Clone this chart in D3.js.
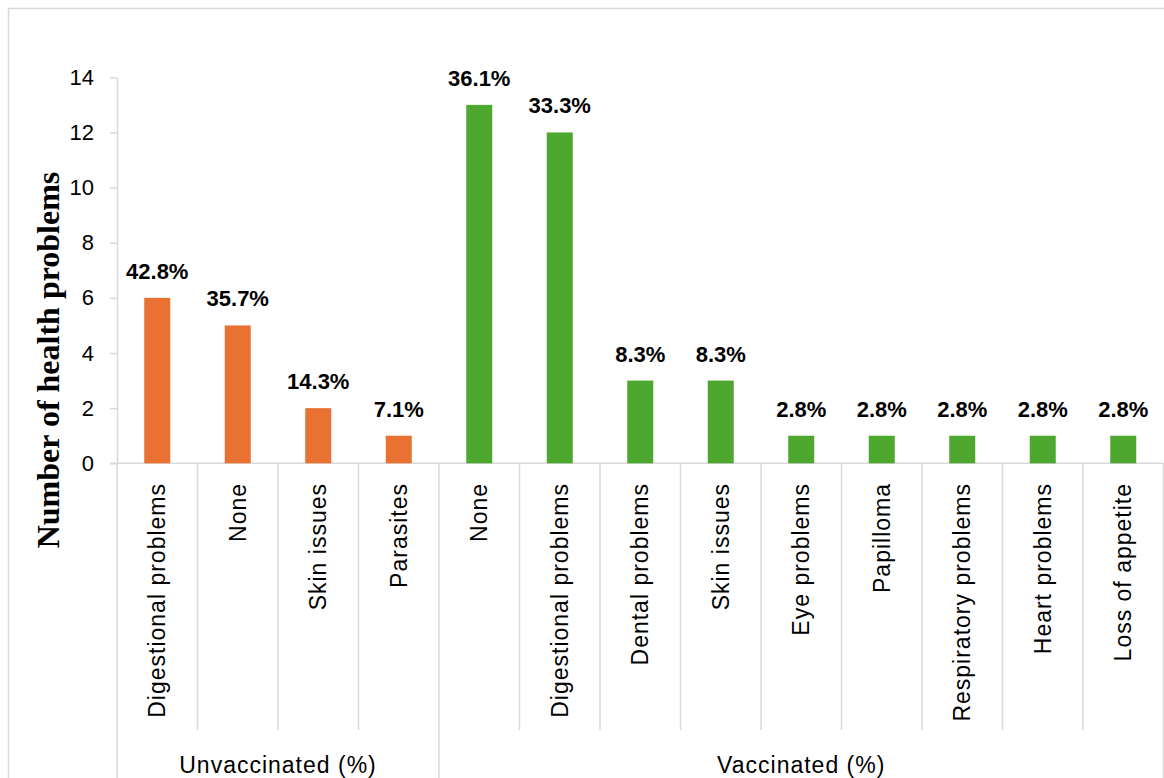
<!DOCTYPE html>
<html><head><meta charset="utf-8">
<script src="https://cdn.jsdelivr.net/npm/d3@7"></script>
<style>html,body{margin:0;padding:0;background:#fff;}svg{display:block;}</style>
</head><body>
<svg id="c" width="1164" height="778"></svg>
<script>
const groups = ["Unvaccinated (%)", "Vaccinated (%)"];
const unvacCats = ["Digestional problems", "None", "Skin issues", "Parasites"];
const unvacValues = [6, 5, 2, 1];
const unvacLabels = ["42.8%", "35.7%", "14.3%", "7.1%"];
const vacCats = ["None", "Digestional problems", "Dental problems", "Skin issues", "Eye problems", "Papilloma", "Respiratory problems", "Heart problems", "Loss of appetite"];
const vacValues = [13, 12, 3, 3, 1, 1, 1, 1, 1];
const vacLabels = ["36.1%", "33.3%", "8.3%", "8.3%", "2.8%", "2.8%", "2.8%", "2.8%", "2.8%"];
const yTicks = [0, 2, 4, 6, 8, 10, 12, 14];
const yTitle = "Number of health problems";

const rows = [];
unvacCats.forEach((c, i) => rows.push({g: 0, key: "u" + i, cat: c, v: unvacValues[i], lab: unvacLabels[i]}));
vacCats.forEach((c, i) => rows.push({g: 1, key: "v" + i, cat: c, v: vacValues[i], lab: vacLabels[i]}));

const svg = d3.select("#c");
const gridCol = "#D9D9D9";
const x0 = 117, x1 = 1163.5, yTop = 77.3, yBot = 463.3;

// outer border
svg.append("rect").attr("x", 8.5).attr("y", 8.5).attr("width", 1170).attr("height", 800)
  .attr("fill", "none").attr("stroke", gridCol).attr("stroke-width", 1.5);

const x = d3.scaleBand().domain(rows.map(d => d.key)).range([x0, x1]).paddingInner(0).paddingOuter(0);
const y = d3.scaleLinear().domain([0, 14]).range([yBot, yTop]);
const colors = ["#E97132", "#4EA72E"];
const barW = 26;

// y axis
const yAxis = svg.append("g").attr("transform", `translate(${x0},0)`)
  .call(d3.axisLeft(y).tickValues(yTicks).tickSize(7).tickSizeOuter(0).tickPadding(16));
yAxis.select(".domain").attr("stroke", gridCol).attr("stroke-width", 1.5);
yAxis.selectAll(".tick line").attr("stroke", gridCol).attr("stroke-width", 1.5);
yAxis.selectAll(".tick text").attr("font-family", "Liberation Sans, Arial, sans-serif")
  .attr("font-size", 22).attr("fill", "#000");

// x axis line
svg.append("line").attr("x1", x0 - 7).attr("x2", x1).attr("y1", yBot).attr("y2", yBot)
  .attr("stroke", gridCol).attr("stroke-width", 1.5);

// category separators
const bounds = rows.map(d => x(d.key)).concat([x1]);
const groupStarts = new Set([0, unvacCats.length, rows.length]);
bounds.forEach((bx, i) => {
  svg.append("line").attr("x1", bx).attr("x2", bx).attr("y1", yBot)
    .attr("y2", groupStarts.has(i) ? 790 : 730)
    .attr("stroke", gridCol).attr("stroke-width", 1.5);
});

// bars
svg.append("g").selectAll("rect").data(rows).join("rect")
  .attr("x", d => x(d.key) + x.bandwidth() / 2 - barW / 2)
  .attr("width", barW)
  .attr("y", d => y(d.v))
  .attr("height", d => y(0) - y(d.v))
  .attr("fill", d => colors[d.g]);

// data labels
svg.append("g").selectAll("text").data(rows).join("text")
  .attr("x", d => x(d.key) + x.bandwidth() / 2)
  .attr("y", d => y(d.v) - 19)
  .attr("text-anchor", "middle")
  .attr("font-family", "Liberation Sans, Arial, sans-serif")
  .attr("font-weight", "bold").attr("font-size", 22).attr("fill", "#000")
  .text(d => d.lab);

// category labels
svg.append("g").selectAll("text").data(rows).join("text")
  .attr("transform", d => `translate(${x(d.key) + x.bandwidth() / 2},483) rotate(-90)`)
  .attr("text-anchor", "end").attr("dy", "0.35em")
  .attr("font-family", "Liberation Sans, Arial, sans-serif")
  .attr("font-size", 23).attr("letter-spacing", 1).attr("fill", "#000")
  .text(d => d.cat);

// group labels
const gx = [[x0, x(rows[unvacCats.length].key)], [x(rows[unvacCats.length].key), x1]];
svg.append("g").selectAll("text").data(groups).join("text")
  .attr("x", (d, i) => (gx[i][0] + gx[i][1]) / 2)
  .attr("y", 773)
  .attr("text-anchor", "middle")
  .attr("font-family", "Liberation Sans, Arial, sans-serif")
  .attr("font-size", 23).attr("letter-spacing", 1).attr("fill", "#000")
  .text(d => d);

// y title
svg.append("text")
  .attr("transform", "translate(48,360) rotate(-90)")
  .attr("text-anchor", "middle").attr("dy", "0.35em")
  .attr("font-family", "Liberation Serif, 'Times New Roman', serif")
  .attr("font-weight", "bold").attr("font-size", 32).attr("fill", "#000")
  .text(yTitle);
</script>
</body></html>
